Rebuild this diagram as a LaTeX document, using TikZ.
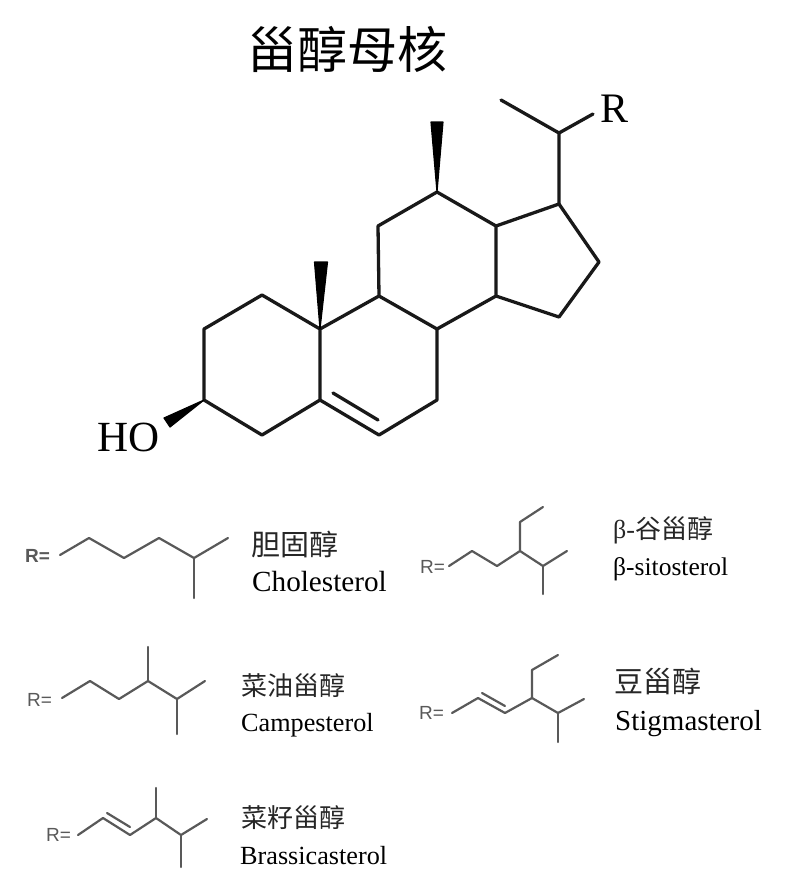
\documentclass[tikz,border=0pt]{standalone}
\usepackage{fontspec}
\setmainfont{Liberation Serif}
\setsansfont{Liberation Sans}
\newfontfamily\cjk{Noto Sans CJK SC}
\newcommand{\fsz}[1]{\fontsize{#1pt}{#1pt}\selectfont}
\tikzset{
  ring/.style={line width=3.3pt,black!90,line join=round,line cap=round},
  chain/.style={line width=2.2pt,black!65,line join=round,line cap=round},
  wedgefill/.style={fill=black,draw=black,line width=1.2pt,line join=round},
  rlabel/.style={font=\sffamily\fsz{19},text=black!65,inner sep=0pt,anchor=west},
  cn/.style={font=\cjk,inner sep=0pt,anchor=base west,text=black!85},
  latin/.style={inner sep=0pt,anchor=base west,text=black},
}
\begin{document}
\begin{tikzpicture}[x=1pt,y=-1pt]
\useasboundingbox (0,0) rectangle (793,892);
\fill[white] (0,0) rectangle (793,892);
% title
\node[cn,font=\cjk\fsz{50},text=black] (title) at (247,68) {甾醇母核};
% steroid atoms
\foreach \n/\x/\y in {c1/262/295,c2/204/329,c3/204/400,c4/262/435,c5/320/400,c6/379/435,c7/437/400,c8/437/329,c9/379/296,c10/320/329,c11/378/226,c12/437/192,c13/496/226,c14/496/296,c15/559/317,c16/599/262,c17/559/204,c20/559/133,c21/501/100,re/593/114,
  d1/333/393,d2/378/420,m1/321/262,m2/437/122}
  \coordinate (\n) at (\x,\y);
\draw[ring] (c10) -- (c1) -- (c2) -- (c3) -- (c4) -- (c5) -- (c10) -- (c9) -- (c11) -- (c12) -- (c13) -- (c14) -- (c8) -- (c9);
\draw[ring] (c5) -- (c6) -- (c7) -- (c8);
\draw[ring] (c13) -- (c17) -- (c16) -- (c15) -- (c14);
\draw[ring] (c17) -- (c20) -- (c21);
\draw[ring] (c20) -- (re);
\draw[ring] (d1) -- (d2);
% wedges
\filldraw[wedgefill] (c10) -- ([xshift=-6.5pt]m1) -- ([xshift=6.5pt]m1) -- cycle;
\filldraw[wedgefill] (c12) -- ([xshift=-6pt]m2) -- ([xshift=6pt]m2) -- cycle;
\coordinate (w1) at (164,418); \coordinate (w2) at (170,427);
\filldraw[wedgefill] (c3) -- (w1) -- (w2) -- cycle;
\node[latin,font=\fsz{43}] (ho) at (97,451) {HO};
\node[latin,font=\fsz{42}] (rr) at (600,122) {R};
% cholesterol
\node[rlabel,font=\sffamily\bfseries\fsz{19}] (r1) at (25,556) {R=};
\foreach \n/\x/\y in {a0/60/555,a1/89/538,a2/124/558,a3/159/538,a4/194/558,a5/228/538,a6/194/598}
  \coordinate (\n) at (\x,\y);
\draw[chain] (a0) -- (a1) -- (a2) -- (a3) -- (a4) -- (a5);
\draw[chain] (a4) -- (a6);
\node[cn,font=\cjk\fsz{29}] (n1) at (251,555) {胆固醇};
\node[latin,font=\fsz{29.2}] (e1) at (252,591) {Cholesterol};
% campesterol
\node[rlabel] (r2) at (27,700) {R=};
\foreach \n/\x/\y in {b0/62/698,b1/90/681,b2/119/699,b3/148/681,b4/148/647,b5/177/699,b6/205/681,b7/177/734}
  \coordinate (\n) at (\x,\y);
\draw[chain] (b0) -- (b1) -- (b2) -- (b3) -- (b5) -- (b6);
\draw[chain] (b3) -- (b4);
\draw[chain] (b5) -- (b7);
\node[cn,font=\cjk\fsz{26}] (n2) at (241,695) {菜油甾醇};
\node[latin,font=\fsz{26.2}] (e2) at (241,731) {Campesterol};
% brassicasterol
\node[rlabel] (r3) at (46,835) {R=};
\foreach \n/\x/\y in {f0/78/835,f1/103/818,f2/130/835,f3/156/818,f4/156/788,f5/181/835,f6/207/819,f7/181/867,f8/107/813,f9/130/827}
  \coordinate (\n) at (\x,\y);
\draw[chain] (f0) -- (f1) -- (f2) -- (f3) -- (f5) -- (f6);
\draw[chain] (f3) -- (f4);
\draw[chain] (f5) -- (f7);
\draw[chain] (f8) -- (f9);
\node[cn,font=\cjk\fsz{26}] (n3) at (241,827) {菜籽甾醇};
\node[latin,font=\fsz{26.2}] (e3) at (240,864) {Brassicasterol};
% sitosterol
\node[rlabel] (r4) at (420,567) {R=};
\foreach \n/\x/\y in {g0/449/566,g1/472/551,g2/497/566,g3/520/551,g4/520/522,g5/543/507,g6/543/566,g7/567/551,g8/543/594}
  \coordinate (\n) at (\x,\y);
\draw[chain] (g0) -- (g1) -- (g2) -- (g3) -- (g6) -- (g7);
\draw[chain] (g3) -- (g4) -- (g5);
\draw[chain] (g6) -- (g8);
\node[cn,inner sep=0pt] (n4) at (613,538) {{\fontsize{26pt}{26pt}\selectfont\rmfamily β-}{\cjk\fsz{26}谷甾醇}};
\node[latin,font=\fsz{25.5}] (e4) at (613,575) {β-sitosterol};
% stigmasterol
\node[rlabel] (r5) at (419,713) {R=};
\foreach \n/\x/\y in {h0/452/713,h1/478/698,h2/505/713,h3/532/698,h4/532/670,h5/558/655,h6/558/713,h7/584/699,h8/558/742,h9/482/693,h10/505/706}
  \coordinate (\n) at (\x,\y);
\draw[chain] (h0) -- (h1) -- (h2) -- (h3) -- (h6) -- (h7);
\draw[chain] (h3) -- (h4) -- (h5);
\draw[chain] (h6) -- (h8);
\draw[chain] (h9) -- (h10);
\node[cn,font=\cjk\fsz{29}] (n5) at (614,692) {豆甾醇};
\node[latin,font=\fsz{29}] (e5) at (615,730) {Stigmasterol};
\end{tikzpicture}
\end{document}
